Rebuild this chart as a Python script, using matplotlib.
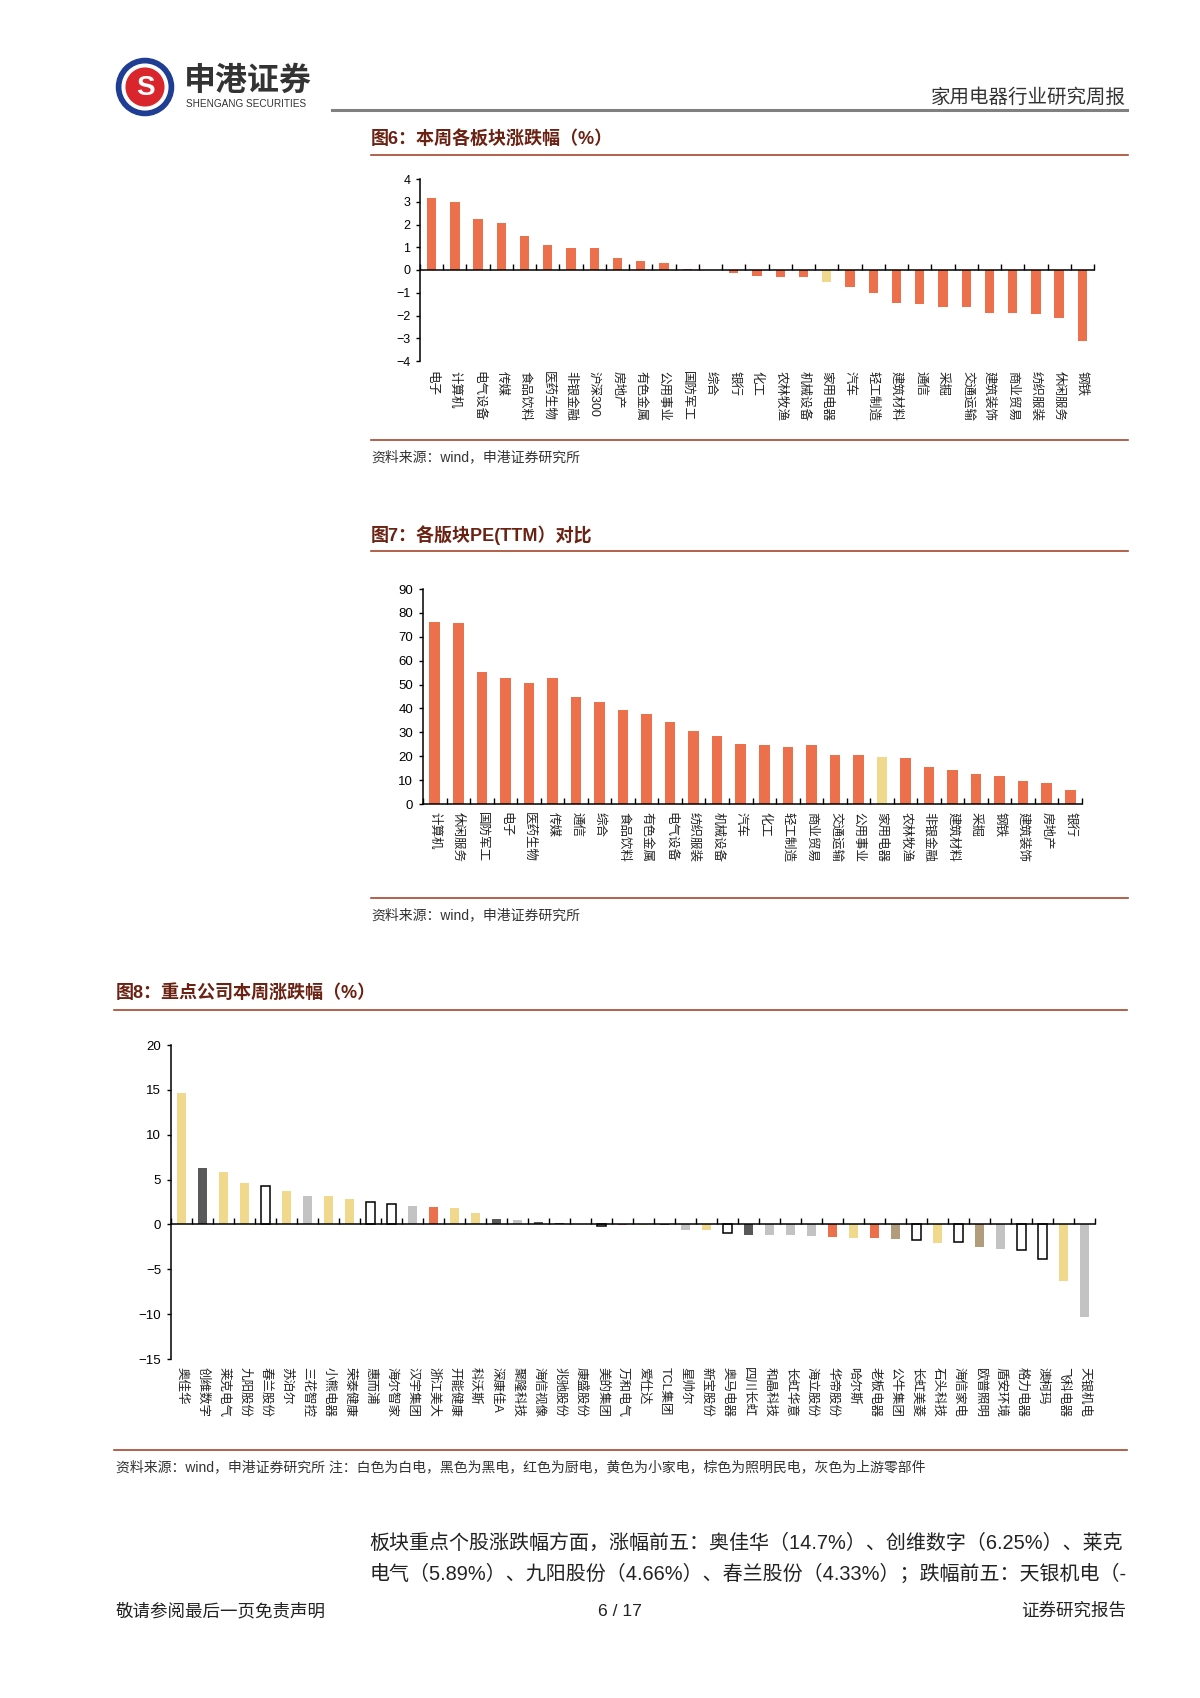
import matplotlib
matplotlib.use('Agg')
import matplotlib.pyplot as plt
from matplotlib.lines import Line2D
from matplotlib.patches import Circle

plt.rcParams['font.family'] = ['Liberation Sans', 'Noto Sans CJK SC', 'DejaVu Sans']

W, H = 1200, 1698

# 图6 本周各板块涨跌幅 (%)
sector_names = ['电子', '计算机', '电气设备', '传媒', '食品饮料', '医药生物', '非银金融', '沪深300',
                '房地产', '有色金属', '公用事业', '国防军工', '综合', '银行', '化工', '农林牧渔',
                '机械设备', '家用电器', '汽车', '轻工制造', '建筑材料', '通信', '采掘', '交通运输',
                '建筑装饰', '商业贸易', '纺织服装', '休闲服务', '钢铁']
sector_chg = [3.16, 3.01, 2.22, 2.07, 1.48, 1.08, 0.98, 0.95, 0.53, 0.39, 0.30, 0.05, 0.01, -0.12,
              -0.25, -0.30, -0.30, -0.52, -0.74, -0.99, -1.47, -1.50, -1.61, -1.64, -1.90, -1.91,
              -1.93, -2.12, -3.11]

# 图7 各版块PE(TTM)
pe_names = ['计算机', '休闲服务', '国防军工', '电子', '医药生物', '传媒', '通信', '综合', '食品饮料',
            '有色金属', '电气设备', '纺织服装', '机械设备', '汽车', '化工', '轻工制造', '商业贸易',
            '交通运输', '公用事业', '家用电器', '农林牧渔', '非银金融', '建筑材料', '采掘', '钢铁',
            '建筑装饰', '房地产', '银行']
pe_values = [76.3, 75.6, 55.2, 52.6, 50.7, 52.6, 45.0, 42.6, 39.4, 37.6, 34.4, 30.5, 28.3, 25.3,
             24.5, 23.8, 24.7, 20.6, 20.5, 19.8, 19.1, 15.6, 14.2, 12.4, 11.8, 9.5, 8.9, 6.0]

# 图8 重点公司本周涨跌幅 (%)
comp_names = ['奥佳华', '创维数字', '莱克电气', '九阳股份', '春兰股份', '苏泊尔', '三花智控', '小熊电器',
              '荣泰健康', '惠而浦', '海尔智家', '汉宇集团', '浙江美大', '开能健康', '科沃斯', '深康佳A',
              '聚隆科技', '海信视像', '兆驰股份', '康盛股份', '美的集团', '万和电气', '爱仕达', 'TCL集团',
              '星帅尔', '新宝股份', '奥马电器', '四川长虹', '和晶科技', '长虹华意', '海立股份', '华帝股份',
              '哈尔斯', '老板电器', '公牛集团', '长虹美菱', '石头科技', '海信家电', '欧普照明', '盾安环境',
              '格力电器', '澳柯玛', '飞科电器', '天银机电']
comp_chg = [14.7, 6.25, 5.89, 4.66, 4.33, 3.7, 3.15, 3.15, 2.8, 2.45, 2.3, 2.0, 1.93, 1.8, 1.3, 0.63,
            0.45, 0.3, 0.15, 0.03, -0.22, -0.05, -0.03, -0.04, -0.67, -0.67, -0.97, -1.19, -1.19,
            -1.19, -1.34, -1.41, -1.52, -1.52, -1.67, -1.78, -2.04, -1.97, -2.53, -2.71, -2.83,
            -3.83, -6.25, -10.33]
comp_type = ['小家电', '黑电', '小家电', '小家电', '白电', '小家电', '零部件', '小家电', '小家电', '白电',
             '白电', '零部件', '厨电', '小家电', '小家电', '黑电', '零部件', '黑电', '黑电', '零部件',
             '白电', '厨电', '小家电', '黑电', '零部件', '小家电', '白电', '黑电', '零部件', '零部件',
             '零部件', '厨电', '小家电', '厨电', '照明', '白电', '小家电', '白电', '照明', '零部件',
             '白电', '白电', '小家电', '零部件']

ORANGE = '#EC704B'
YELLOW = '#F0D98C'
type_fill = {'白电': 'white', '黑电': '#595959', '厨电': ORANGE, '小家电': YELLOW,
             '照明': '#B19C7B', '零部件': '#C3C3C3'}
TITLE_C = '#6A2213'
RULE_C = '#A5472C'

fig = plt.figure(figsize=(W / 100, H / 100), dpi=100)


def fx(x):
    return x / W


def fy(y):
    return 1 - y / H


def px_axes(left, top, right, bottom):
    return fig.add_axes([fx(left), fy(bottom), (right - left) / W, (bottom - top) / H])


def hline(x0, x1, y, color, lw):
    fig.add_artist(Line2D([fx(x0), fx(x1)], [fy(y), fy(y)], color=color, lw=lw,
                          transform=fig.transFigure))


def bar_axes(ax, n):
    ax.spines['top'].set_visible(False)
    ax.spines['right'].set_visible(False)
    ax.spines['left'].set_linewidth(1.1)
    ax.spines['bottom'].set_linewidth(1.1)
    ax.set_xlim(-0.5, n - 0.5)
    ax.set_xticks([i + 0.5 for i in range(-1, n)])
    ax.set_xticklabels([])
    ax.tick_params(axis='x', direction='in', length=4, width=1)
    ax.tick_params(axis='y', direction='out', length=3, width=1, pad=4)
    ax.patch.set_alpha(0)


def cat_labels(ax, names, size, off):
    for i, name in enumerate(names):
        ax.annotate(name, xy=(i, 0), xycoords=('data', 'axes fraction'), xytext=(0, -off),
                    textcoords='offset points', rotation=-90, ha='center', va='top',
                    fontsize=size, color='#222222')


# ---- header ----
lax = px_axes(115, 57, 175, 117)
lax.set_xlim(-1.05, 1.05)
lax.set_ylim(-1.05, 1.05)
lax.set_aspect('equal')
lax.axis('off')
lax.add_patch(Circle((0, 0), 1.0, color='#1E3D93'))
lax.add_patch(Circle((0, 0), 0.8, color='white'))
lax.add_patch(Circle((0, 0), 0.66, color='#D8262C'))
lax.text(0, -0.04, 'S', color='white', fontsize=20, fontweight='bold', ha='center', va='center')
fig.text(fx(184), fy(82), '申港证券', fontsize=23, fontweight='bold', color='#333333',
         ha='left', va='center')
fig.text(fx(186), fy(104), 'SHENGANG SECURITIES', fontsize=7.2, color='#333333',
         ha='left', va='center')
fig.text(fx(1126), fy(98), '家用电器行业研究周报', fontsize=14, color='#333333',
         ha='right', va='center')
hline(332, 1127, 110, '#808080', 2.2)

# ---- 图6 ----
fig.text(fx(371), fy(139), '图6：本周各板块涨跌幅（%）', fontsize=13, fontweight='bold',
         color=TITLE_C, ha='left', va='center')
hline(371, 1128, 155, RULE_C, 1.2)
ax6 = px_axes(420, 179, 1094, 361)
colors6 = [YELLOW if n == '家用电器' else ORANGE for n in sector_names]
ax6.bar(range(len(sector_names)), sector_chg, width=0.4, color=colors6, zorder=2)
bar_axes(ax6, len(sector_names))
ax6.set_ylim(-4, 4)
ax6.set_yticks(range(-4, 5))
ax6.spines['bottom'].set_position(('data', 0))
ax6.tick_params(axis='y', labelsize=9)
cat_labels(ax6, sector_names, 9, 7)
hline(371, 1128, 440, RULE_C, 1.2)
fig.text(fx(371), fy(457), '资料来源：wind，申港证券研究所', fontsize=10, color='#333333',
         ha='left', va='center')

# ---- 图7 ----
fig.text(fx(371), fy(535), '图7：各版块PE(TTM）对比', fontsize=13, fontweight='bold',
         color=TITLE_C, ha='left', va='center')
hline(371, 1128, 551, RULE_C, 1.2)
ax7 = px_axes(423, 589, 1082, 804)
colors7 = [YELLOW if n == '家用电器' else ORANGE for n in pe_names]
ax7.bar(range(len(pe_names)), pe_values, width=0.45, color=colors7, zorder=2)
bar_axes(ax7, len(pe_names))
ax7.set_ylim(0, 90)
ax7.set_yticks(range(0, 91, 10))
ax7.tick_params(axis='y', labelsize=9.5)
cat_labels(ax7, pe_names, 9, 6)
hline(371, 1128, 898, RULE_C, 1.2)
fig.text(fx(371), fy(915), '资料来源：wind，申港证券研究所', fontsize=10, color='#333333',
         ha='left', va='center')

# ---- 图8 ----
fig.text(fx(116), fy(993), '图8：重点公司本周涨跌幅（%）', fontsize=13, fontweight='bold',
         color=TITLE_C, ha='left', va='center')
hline(114, 1127, 1010, RULE_C, 1.2)
ax8 = px_axes(171, 1045, 1095, 1359)
for i, (v, t) in enumerate(zip(comp_chg, comp_type)):
    ax8.bar(i, v, width=0.42, color=type_fill[t],
            edgecolor='black' if t == '白电' else type_fill[t],
            linewidth=1.1 if t == '白电' else 0, zorder=2)
bar_axes(ax8, len(comp_names))
ax8.set_ylim(-15, 20)
ax8.set_yticks(range(-15, 21, 5))
ax8.spines['bottom'].set_position(('data', 0))
ax8.tick_params(axis='y', labelsize=9.5)
cat_labels(ax8, comp_names, 9, 6)
hline(114, 1127, 1450, RULE_C, 1.2)
fig.text(fx(116), fy(1467),
         '资料来源：wind，申港证券研究所 注：白色为白电，黑色为黑电，红色为厨电，黄色为小家电，棕色为照明民电，灰色为上游零部件',
         fontsize=10, color='#333333', ha='left', va='center')

# ---- body text ----
fig.text(fx(369), fy(1543),
         '板块重点个股涨跌幅方面，涨幅前五：奥佳华（14.7%）、创维数字（6.25%）、莱克',
         fontsize=14.4, color='#222222', ha='left', va='center')
fig.text(fx(369), fy(1574),
         '电气（5.89%）、九阳股份（4.66%）、春兰股份（4.33%）；跌幅前五：天银机电（-',
         fontsize=14.4, color='#222222', ha='left', va='center')

# ---- footer ----
fig.text(fx(116), fy(1611), '敬请参阅最后一页免责声明', fontsize=12.6, color='#222222',
         ha='left', va='center')
fig.text(fx(620), fy(1611), '6 / 17', fontsize=12.6, color='#222222', ha='center', va='center')
fig.text(fx(1126), fy(1611), '证券研究报告', fontsize=12.6, color='#222222', ha='right', va='center')

fig.savefig('out.png', dpi=100, facecolor='white')
